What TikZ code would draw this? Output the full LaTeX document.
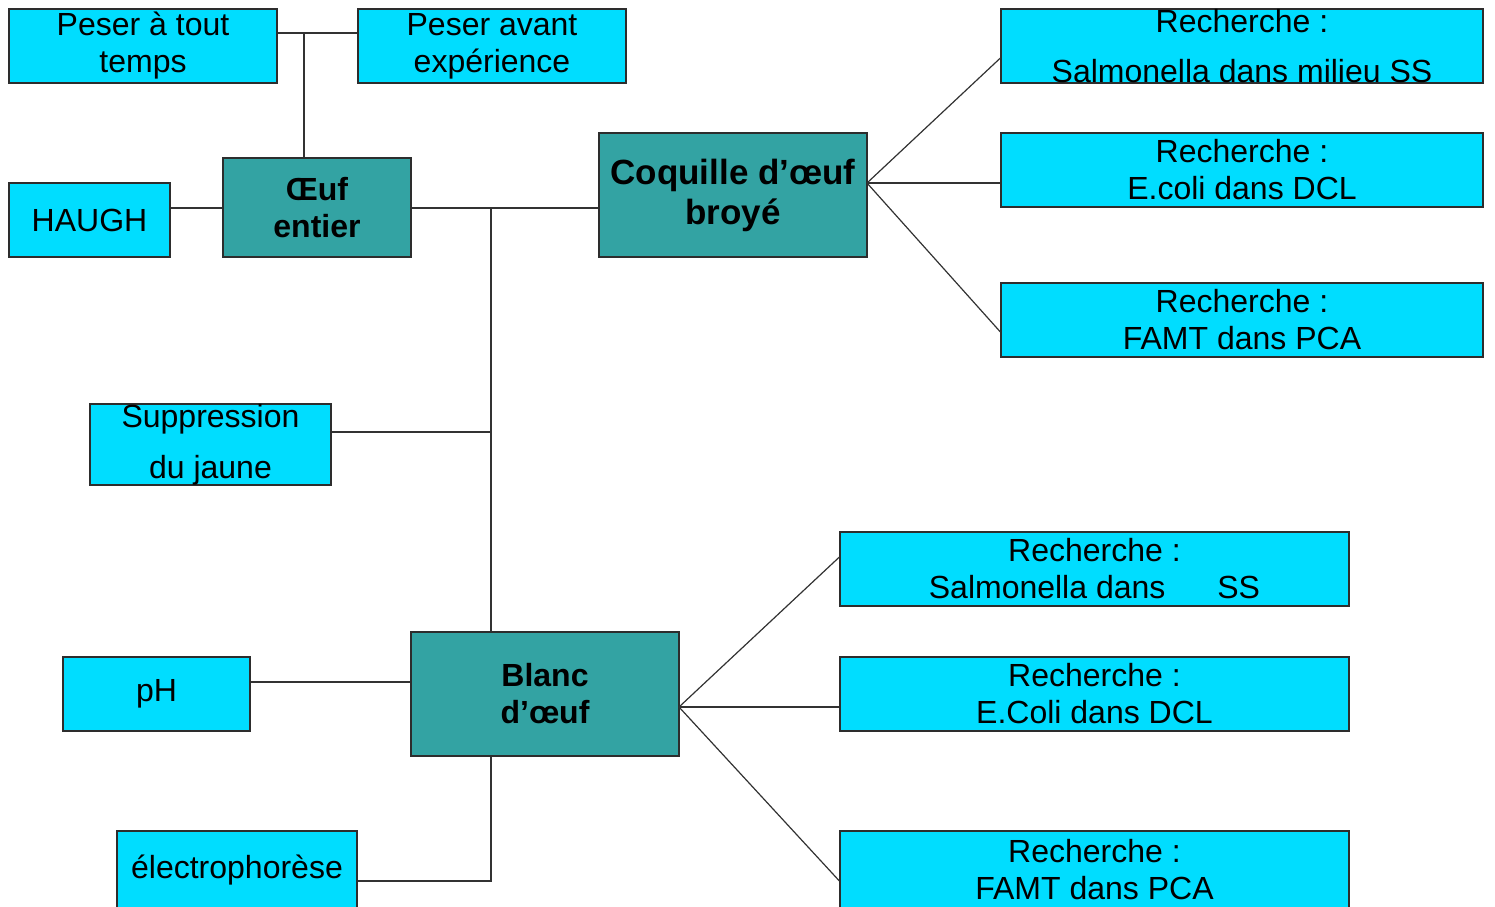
\documentclass[tikz,border=0pt]{standalone}
\usepackage{fontspec}
\setmainfont{Liberation Sans}

\begin{document}
\begin{tikzpicture}
        [ x=0.5pt, y=-0.5pt
        , box/.style={draw=border, line width=0.6pt, inner sep=0pt, align=center, font=\fontsize{16}{18.5}\selectfont}
        , rech/.style={box, fill=cyanbox}
        , etape/.style={box, fill=tealbox, font=\fontsize{16}{18.5}\selectfont\bfseries}
        , lien/.style={draw=trait, line width=0.6pt}
        ]
        \definecolor{cyanbox}{RGB}{0,221,255}
        \definecolor{tealbox}{RGB}{51,163,163}
        \definecolor{border}{RGB}{45,45,45}
        \definecolor{trait}{RGB}{50,50,50}

        \path[use as bounding box, clip] (0,0) rectangle (1495,906);

        % oeuf entier et ses mesures
        \node (peserA) [rech, minimum width=134pt, minimum height=37pt] at (143,46) {Peser à tout\\temps};
        \node (peserB) [rech, minimum width=134pt, minimum height=37pt] at (492,46) {Peser avant\\expérience};
        \node (haugh) [rech, minimum width=80.5pt, minimum height=37pt] at (89.5,220) {HAUGH};
        \node (oeuf) [etape, minimum width=94pt, minimum height=49.5pt] at (317,207.5) {Œuf\\entier};

        % coquille
        \node (coq) [etape, minimum width=134pt, minimum height=62pt, font=\fontsize{17.5}{20}\selectfont\bfseries] at (733,195) {Coquille d’œuf\\broyé};
        \node (rechA) [rech, minimum width=241pt, minimum height=37pt] at (1242,46) {Recherche :\\[6.5pt]Salmonella dans milieu SS};
        \node (rechB) [rech, minimum width=241pt, minimum height=37pt] at (1242,170) {Recherche :\\E.coli dans DCL};
        \node (rechC) [rech, minimum width=241pt, minimum height=37pt] at (1242,320) {Recherche :\\FAMT dans PCA};

        \node (supp) [rech, minimum width=120.5pt, minimum height=37.5pt] at (210.5,444.5) {Suppression\\[7pt]du jaune};

        % blanc
        \node (blanc) [etape, minimum width=134pt, minimum height=62pt] at (545,694) {Blanc\\d’œuf};
        \node (ph) [rech, minimum width=93.5pt, minimum height=37pt] at (156.5,694) {pH};
        \node (electro) [rech, minimum width=120pt, minimum height=39pt] at (237,870) {électrophorèse};
        \node (rechD) [rech, minimum width=254.5pt, minimum height=37pt] at (1094.5,569) {Recherche :\\Salmonella dans\hspace{26pt}SS};
        \node (rechE) [rech, minimum width=254.5pt, minimum height=37pt] at (1094.5,694) {Recherche :\\E.Coli dans DCL};
        \node (rechF) [rech, minimum width=254.5pt, minimum height=39pt] at (1094.5,870) {Recherche :\\FAMT dans PCA};

        \coordinate (jp) at (304,33);
        \draw[lien] (jp -| peserA.east) -- (jp -| peserB.west);
        \draw[lien] (jp) -- (jp |- oeuf.north);
        \coordinate (jo) at (491,208);
        \draw[lien] (jo -| haugh.east) -- (jo -| oeuf.west);
        \draw[lien] (jo -| oeuf.east) -- (jo -| coq.west);

        \draw[lien] (jo) -- (jo |- blanc.north);
        \coordinate (js) at (491,432);
        \draw[lien] (js -| supp.east) -- (js);
        \coordinate (jh) at (411,682);
        \draw[lien] (jh -| ph.east) -- (jh -| blanc.west);
        \coordinate (je) at (491,881);
        \draw[lien] (jo |- blanc.south) -- (je) -- (je -| electro.east);

        \coordinate (jc) at (867,183);
        \draw[lien] (jc) -- ([yshift=-6pt]rechA.west);
        \draw[lien] (jc) -- (jc -| rechB.west);
        \draw[lien] (jc) -- ([yshift=-6pt]rechC.west);

        \coordinate (jb) at (679,707);
        \draw[lien] (jb) -- ([yshift=6pt]rechD.west);
        \draw[lien] (jb) -- (jb -| rechE.west);
        \draw[lien] (jb) -- ([yshift=-5.5pt]rechF.west);
\end{tikzpicture}
\end{document}
